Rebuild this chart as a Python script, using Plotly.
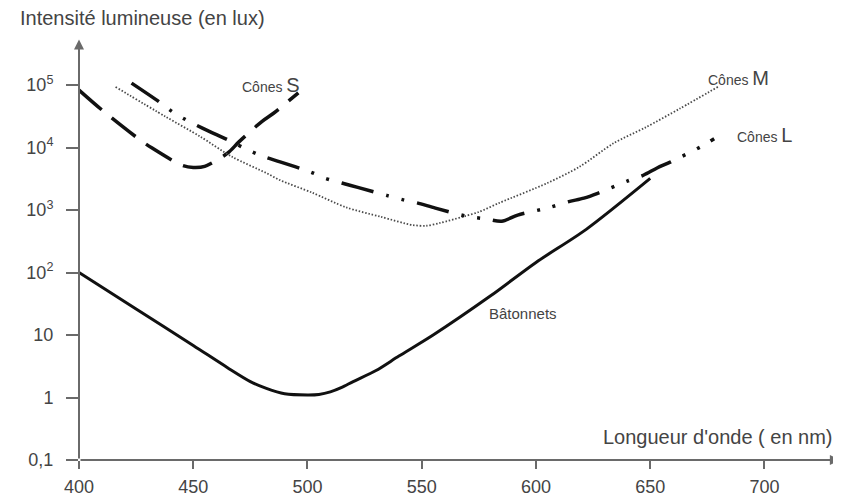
import plotly.graph_objects as go

# ---- data (wavelength in nm, light intensity in lux) ----
rods_nm = [400, 425, 450, 465, 475, 482, 490, 500, 505, 510, 515, 520, 530, 540, 555, 580, 600, 622, 650]
rods_lux = [100, 26, 6.8, 3.0, 1.8, 1.4, 1.15, 1.1, 1.12, 1.23, 1.45, 1.8, 2.7, 4.6, 10, 42, 145, 490, 3200]

s_nm = [400, 410, 427, 432, 445, 450, 455, 465, 470, 480, 485, 496]
s_lux = [83000, 40000, 13000, 9800, 5200, 4800, 5000, 8100, 12300, 26000, 35000, 75000]

m_nm = [416, 438, 453, 467, 482, 488, 502, 517, 532, 546, 552, 558, 568, 575, 584, 605, 619, 634, 648, 663, 680]
m_lux = [93000, 31000, 15000, 7100, 3900, 3000, 1900, 1100, 780, 575, 560, 620, 780, 930, 1300,
         2700, 4900, 11700, 21000, 42000, 95000]

l_nm = [423, 435, 441, 447, 454, 467, 474, 481, 488, 501, 508, 515, 522, 535, 542, 548, 556, 570,
        578, 585, 592, 606, 614, 621, 627, 640, 647, 653, 659, 672, 678]
l_lux = [107000, 54000, 37000, 27500, 20400, 12300, 9100, 7100, 5900, 4100, 3200, 2700, 2300, 1700,
         1450, 1300, 1070, 790, 720, 660, 830, 1100, 1350, 1550, 1850, 2900, 3600, 4700, 5900, 10200, 13800]

x_ticks = [400, 450, 500, 550, 600, 650, 700]
y_ticks = [0.1, 1, 10, 100, 1000, 10000, 100000]
y_ticktext = ["0,1", "1", "10", "10<sup>2</sup>", "10<sup>3</sup>", "10<sup>4</sup>", "10<sup>5</sup>"]

FONT = "Liberation Sans, Arial, sans-serif"
TXT = "#444444"
AX = "#6a6a6a"

fig = go.Figure()
fig.add_trace(go.Scatter(x=rods_nm, y=rods_lux, mode="lines",
                         line=dict(color="#111111", width=3, shape="spline", smoothing=0.8)))
fig.add_trace(go.Scatter(x=s_nm, y=s_lux, mode="lines",
                         line=dict(color="#111111", width=3.5, shape="spline", smoothing=0.8,
                                   dash="30px,13px")))
fig.add_trace(go.Scatter(x=m_nm, y=m_lux, mode="lines",
                         line=dict(color="#4a4a4a", width=1.8, shape="spline", smoothing=0.8,
                                   dash="1.5px,1.8px")))
fig.add_trace(go.Scatter(x=l_nm, y=l_lux, mode="lines",
                         line=dict(color="#111111", width=3.5, shape="spline", smoothing=0.8,
                                   dash="33px,13px,3px,13px,3px,13px")))

annotations = [
    # axes with arrowheads
    dict(x=733, y=-1, ax=400, ay=-1, xref="x", yref="y", axref="x", ayref="y", text="",
         showarrow=True, arrowhead=2, arrowsize=1, arrowwidth=2, arrowcolor=AX),
    dict(x=400, y=5.73, ax=400, ay=-1, xref="x", yref="y", axref="x", ayref="y", text="",
         showarrow=True, arrowhead=2, arrowsize=1, arrowwidth=2, arrowcolor=AX),
    # axis titles
    dict(x=-0.081, y=1.052, xref="paper", yref="paper", xanchor="left", yanchor="middle",
         text="Intensité lumineuse (en lux)", showarrow=False, font=dict(size=20, color=TXT, family=FONT)),
    dict(x=1.003, y=0.055, xref="paper", yref="paper", xanchor="right", yanchor="middle",
         text="Longueur d'onde ( en nm)", showarrow=False, font=dict(size=20, color=TXT, family=FONT)),
    # curve labels
    dict(x=470.5, y=5.0, xref="x", yref="y", xanchor="left", yanchor="middle", showarrow=False,
         text="Cônes <span style='font-size:20px'>S</span>", font=dict(size=14, color=TXT, family=FONT)),
    dict(x=674.5, y=5.12, xref="x", yref="y", xanchor="left", yanchor="middle", showarrow=False,
         text="Cônes <span style='font-size:20px'>M</span>", font=dict(size=14, color=TXT, family=FONT)),
    dict(x=687.0, y=4.2, xref="x", yref="y", xanchor="left", yanchor="middle", showarrow=False,
         text="Cônes <span style='font-size:20px'>L</span>", font=dict(size=14, color=TXT, family=FONT)),
    dict(x=578.5, y=1.35, xref="x", yref="y", xanchor="left", yanchor="middle", showarrow=False,
         text="Bâtonnets", font=dict(size=15, color=TXT, family=FONT)),
]

fig.update_layout(
    width=833, height=491,
    margin=dict(l=71, r=8, t=32, b=39, autoexpand=False),
    paper_bgcolor="white", plot_bgcolor="white",
    showlegend=False,
    font=dict(family=FONT, color=TXT, size=18),
    annotations=annotations,
    xaxis=dict(range=[400, 730], tickvals=x_ticks, ticks="outside", ticklen=8, tickwidth=1.5,
               tickcolor=AX, showgrid=False, zeroline=False, showline=False, automargin=False,
               ticklabelstandoff=2, tickfont=dict(size=18, color=TXT, family=FONT)),
    yaxis=dict(type="log", range=[-1, 5.72], tickvals=y_ticks, ticktext=y_ticktext,
               ticks="outside", ticklen=12, tickwidth=1.5, tickcolor=AX, showgrid=False,
               zeroline=False, showline=False, automargin=False, ticklabelstandoff=9,
               tickfont=dict(size=18, color=TXT, family=FONT)),
)

fig.write_html("out.html")
